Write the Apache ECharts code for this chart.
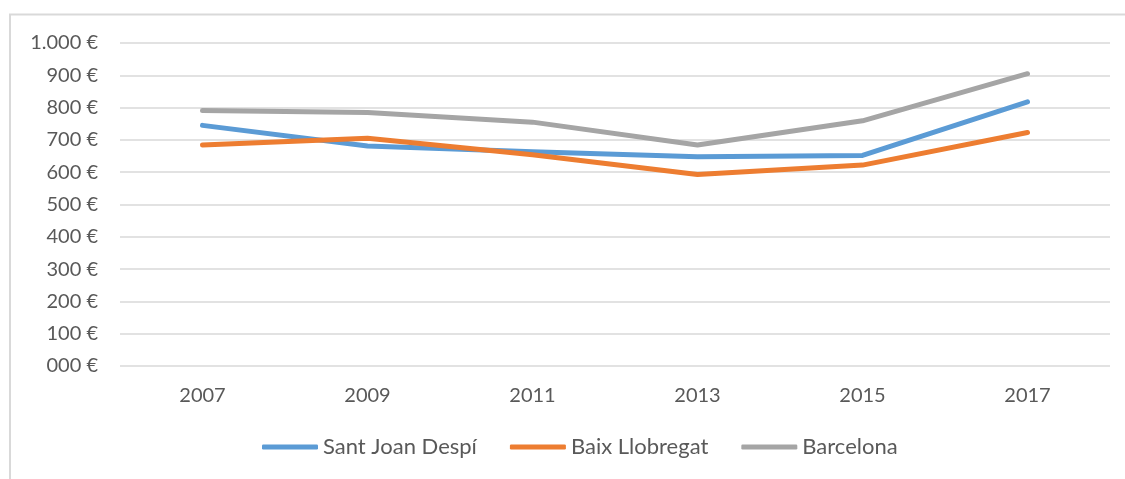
<!DOCTYPE html>
<html>
<head>
<meta charset="utf-8">
<script src="https://cdn.jsdelivr.net/npm/echarts@6/dist/echarts.min.js"></script>
<style>
  html, body { margin: 0; padding: 0; background: #fff; }
  #chart { width: 1125px; height: 479px; }
</style>
</head>
<body>
<div id="chart"></div>
<script>
// data
var years = ["2007", "2009", "2011", "2013", "2015", "2017"];
var santJoanDespi = [745, 681, 663, 648, 652, 818];
var baixLlobregat = [684, 705, 654, 593, 622, 723];
var barcelona = [791, 785, 755, 684, 759, 905];
var seriesNames = ["Sant Joan Despí", "Baix Llobregat", "Barcelona"];
var colors = ["#5B9BD5", "#ED7D31", "#A5A5A5"];

var textColor = "#595959";
var font = "Lato";

function euroLabel(v) {
  if (v === 0) return "000 €";
  if (v >= 1000) return Math.floor(v / 1000) + "." + String(v % 1000).padStart(3, "0") + " €";
  return v + " €";
}

var chart = echarts.init(document.getElementById("chart"));

function lineSeries(name, data, color) {
  return {
    name: name,
    type: "line",
    data: data,
    symbol: "none",
    smooth: false,
    lineStyle: { color: color, width: 5, cap: "round", join: "round" },
    itemStyle: { color: color },
    animation: false
  };
}

var option = {
  backgroundColor: "#fff",
  graphic: [
    {
      type: "rect",
      shape: { x: 10, y: 14.5, width: 1200, height: 600 },
      style: { fill: "none", stroke: "#d9d9d9", lineWidth: 2 },
      silent: true
    }
  ],
  grid: {
    left: 120,
    right: 15,
    top: 43,
    bottom: 113
  },
  legend: {
    data: seriesNames,
    bottom: 16,
    left: 257,
    icon: "roundRect",
    itemWidth: 56,
    itemHeight: 5,
    itemGap: 33,
    textStyle: { color: textColor, fontFamily: font, fontSize: 22 }
  },
  xAxis: {
    type: "category",
    data: years,
    boundaryGap: true,
    axisLine: { show: false },
    axisTick: { show: false },
    axisLabel: { color: textColor, fontFamily: font, fontSize: 20, margin: 20 }
  },
  yAxis: {
    type: "value",
    min: 0,
    max: 1000,
    interval: 100,
    axisLine: { show: false },
    axisTick: { show: false },
    splitLine: { lineStyle: { color: "#d9d9d9", width: 1.5 } },
    axisLabel: {
      color: textColor,
      fontFamily: font,
      fontSize: 20,
      margin: 22,
      formatter: euroLabel
    }
  },
  series: [
    lineSeries(seriesNames[0], santJoanDespi, colors[0]),
    lineSeries(seriesNames[1], baixLlobregat, colors[1]),
    lineSeries(seriesNames[2], barcelona, colors[2])
  ]
};

chart.setOption(option);
</script>
</body>
</html>
